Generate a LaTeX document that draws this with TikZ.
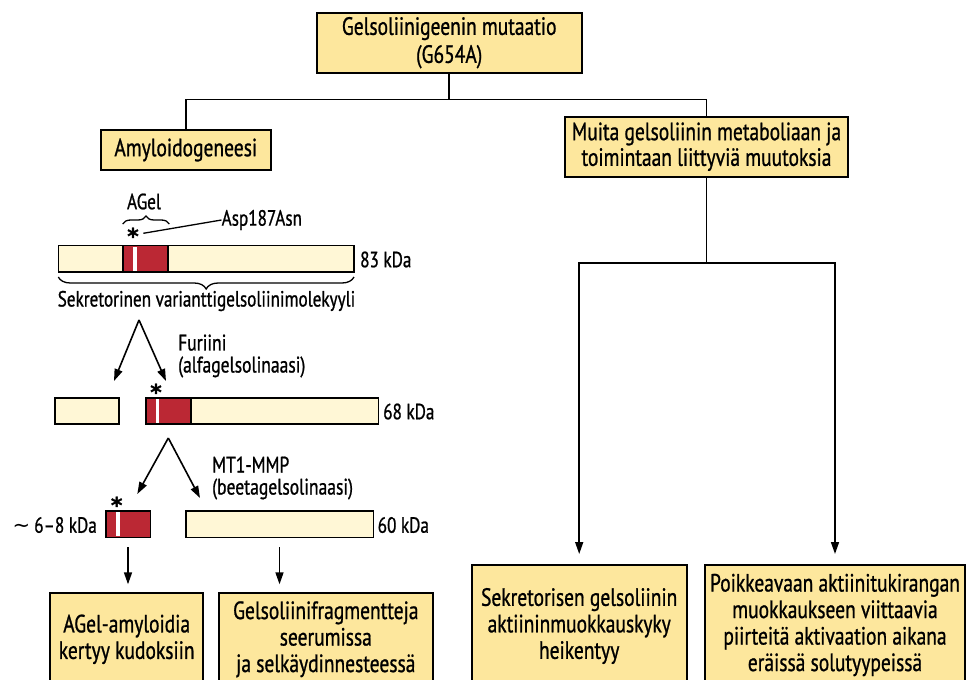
\documentclass[tikz,border=0pt]{standalone}
\usepackage{fontspec}
\setmainfont{PT Sans}[FakeStretch=0.78, FakeBold=0.9]
\newfontfamily\starfont{DejaVu Sans}[FakeBold=1.2]
\newfontfamily\tildefont{DejaVu Sans}
\usetikzlibrary{arrows.meta,decorations.pathreplacing}
\definecolor{boxfill}{RGB}{253,231,157}
\definecolor{barfill}{RGB}{255,247,214}
\definecolor{segred}{RGB}{187,40,52}
\tikzset{
  ybox/.style={draw=black, line width=2pt, fill=boxfill, align=center, inner sep=0pt,
     font=\fontsize{25}{26.5}\selectfont},
  lbl/.style={inner sep=0pt, font=\fontsize{22.5}{22}\selectfont, align=left},
  bigl/.style={inner sep=0pt, font=\fontsize{22}{24}\selectfont},
  bar/.style={draw=black, line width=1.6pt, fill=barfill, inner sep=0pt, minimum height=26.5pt},
  redseg/.style={draw=black, line width=1.6pt, fill=segred, inner sep=0pt, minimum height=26.5pt},
  stripe/.style={fill=white, draw=none, inner sep=0pt, minimum height=24pt, minimum width=3.2pt},
  conn/.style={line width=1.8pt},
  arr/.style={line width=1.6pt, -{Triangle[length=12pt,width=8pt]}},
  star/.style={inner sep=0pt, anchor=base, font=\fontsize{22}{22}\starfont\bfseries},
  brc/.style={decorate, decoration={brace, amplitude=#1}, line width=1.3pt}
}
\begin{document}
\begin{tikzpicture}[x=1pt,y=-1pt]
\useasboundingbox (0,0) rectangle (967,680);
\clip (0,0) rectangle (967,680);
\fill[white] (0,0) rectangle (967,680);

% top level boxes
\node[ybox, minimum width=265pt, minimum height=60pt, font=\fontsize{25}{28}\selectfont] (top) at (449.2,42.7)
  {Gelsoliinigeenin mutaatio\\(G654A)};
\node[ybox, minimum width=170.5pt, minimum height=40pt] (amy) at (185.8,150)
  {Amyloidogeneesi};
\node[ybox, minimum width=283pt, minimum height=60pt, font=\fontsize{25}{25.7}\selectfont] (muita) at (706.5,146.7)
  {Muita gelsoliinin metaboliaan ja\\toimintaan liittyviä muutoksia};

\coordinate (j1) at (449.2,99.5);
\draw[conn] (top.south) -- (j1);
\draw[conn] (amy.north) |- (j1) -| (muita.north);

% right branch
\coordinate (j2) at (706.5,263);
\node[ybox, minimum width=215pt, minimum height=122pt] (b3) at (579.2,626)
  {Sekretorisen gelsoliinin\\aktiininmuokkauskyky\\heikentyy};
\node[ybox, minimum width=260pt, minimum height=120pt] (b4) at (835,625)
  {Poikkeavaan aktiinitukirangan\\muokkaukseen viittaavia\\piirteitä aktivaation aikana\\eräissä solutyypeissä};
\draw[conn] (muita.south) -- (j2);
\draw[arr, shorten >=10pt] (j2) -| (b3.north);
\draw[arr, shorten >=10pt] (j2) -| (b4.north);

% 83 kDa molecule
\node[bigl] (agel) at (144,201.5) {AGel};
\draw[brc=8pt] (122.7,224) -- (169.3,224);
\node[star] (s1) at (133,244) {*};
\node[bigl, anchor=west] (asp) at (221.5,220) {Asp187Asn};
\draw[line width=1.3pt] (143.3,233.3) -- (asp.west);

\node[bar, minimum width=295.7pt] (b83) at (206.2,258.8) {};
\node[redseg, minimum width=45pt] (r83) at (145.2,258.8) {};
\node[stripe] at (135,258.8) {};
\node[bigl, anchor=west] (k83) at (360,259.5) {83 kDa};
\draw[brc=12pt] (354,277) -- (58.3,277);
\node[bigl] (sek) at (206.5,301) {Sekretorinen varianttigelsoliinimolekyyli};

% furin cleavage
\coordinate (ap1) at (139,320);
\coordinate (t1a) at (114,381);
\coordinate (t1b) at (166,381);
\draw[arr] (ap1) -- (t1a);
\draw[arr] (ap1) -- (t1b);
\node[lbl, anchor=west] (fur) at (178,356) {Furiini\\(alfagelsolinaasi)};
\node[star] (s2) at (156,400) {*};

\node[bar, minimum width=64pt] (b68s) at (87,411) {};
\node[bar, minimum width=232.6pt] (b68) at (262,411) {};
\node[redseg, minimum width=45.3pt] (r68) at (168.35,411) {};
\node[stripe] at (157.6,411) {};
\node[bigl, anchor=west] (k68) at (383,411.5) {68 kDa};

% MT1-MMP cleavage
\coordinate (ap2) at (168.3,438);
\coordinate (t2a) at (137.3,494);
\coordinate (t2b) at (200,498);
\draw[arr] (ap2) -- (t2a);
\draw[arr] (ap2) -- (t2b);
\node[lbl, anchor=west] (mt) at (212,478) {MT1-MMP\\(beetagelsolinaasi)};
\node[star] (s3) at (116.7,513) {*};

\node[redseg, minimum width=44.6pt] (b8) at (128,524.2) {};
\node[stripe] at (118,524.2) {};
\node[bigl, anchor=east] (k8) at (97,525) {{\fontsize{21}{24}\tildefont ∼}\hspace{4pt}6–8 kDa};
\node[bar, minimum width=187.6pt] (b60) at (279.5,524.2) {};
\node[bigl, anchor=west] (k60) at (377.5,525) {60 kDa};

% left bottom boxes
\node[ybox, minimum width=153.3pt, minimum height=92pt] (b1) at (126.7,639.3)
  {AGel-amyloidia\\kertyy kudoksiin};
\node[ybox, minimum width=213.7pt, minimum height=92pt] (b2) at (325.8,639.3)
  {Gelsoliinifragmentteja\\seerumissa\\ja selkäydinnesteessä};
\draw[arr, shorten <=9pt, shorten >=8pt] (b8.south) -- (b8.south |- b1.north);
\draw[arr, shorten <=9pt, shorten >=8pt] (b60.south) -- (b60.south |- b2.north);
\end{tikzpicture}
\end{document}
